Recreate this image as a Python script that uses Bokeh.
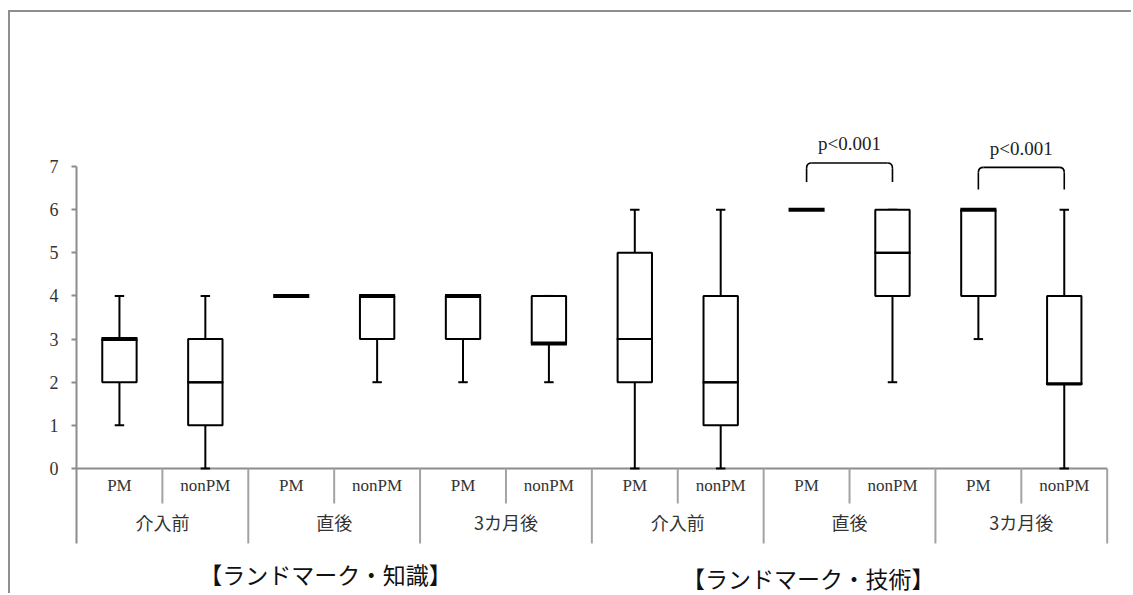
from bokeh.plotting import figure
from bokeh.models import Range1d, FixedTicker
from bokeh.core.properties import value
from bokeh.embed import file_html
from bokeh.resources import INLINE

# ---------------- data ----------------
domains = ["【ランドマーク・知識】", "【ランドマーク・技術】"]
phases = ["介入前", "直後", "3カ月後"]
groups = ["PM", "nonPM"]

whisker_low = [1, 0, 4, 2, 2, 2, 0, 0, 6, 2, 3, 0]
q1 = [2, 1, 4, 3, 3, 2.9, 2, 1, 6, 4, 4, 1.95]
median = [3, 2, 4, 4, 4, 2.9, 3, 2, 6, 5, 6, 1.97]
q3 = [3, 3, 4, 4, 4, 4, 5, 4, 6, 6, 6, 4]
whisker_high = [4, 4, 4, 4, 4, 4, 6, 6, 6, 6, 6, 6]

y_ticks = [0, 1, 2, 3, 4, 5, 6, 7]
sig_pairs = [(8, 9), (10, 11)]
sig_labels = ["p<0.001", "p<0.001"]

# ---------------- layout constants ----------------
W, H = 1123, 583
LEFT, RIGHT = 66, 22
UNIT_Y = 43.14            # px per y unit
ZERO_Y = 456              # canvas y of value 0
X_END = 12.05

GRAY = "#8c8c8c"
SEP = "#a3a3a3"
SERIF = value("Liberation Serif")
CJK = value("Noto Sans CJK JP")

n = len(whisker_low)
cx = [i + 0.5 for i in range(n)]
bw = 0.2      # half box width
cw = 0.055    # half cap width

p = figure(width=W, height=H, output_backend="svg", toolbar_location=None,
           x_range=Range1d(0, X_END),
           y_range=Range1d(-(H - ZERO_Y) / UNIT_Y, ZERO_Y / UNIT_Y),
           x_axis_location=None, min_border_left=LEFT, min_border_right=RIGHT,
           min_border_top=0, min_border_bottom=0)
p.grid.visible = False
p.outline_line_color = None
p.background_fill_color = "white"
p.border_fill_color = "white"
p.styles = {"border-left": "2px solid #8f8f8f", "border-top": "2px solid #8f8f8f",
            "margin-left": "8px", "margin-top": "10px"}

# y axis
ya = p.yaxis[0]
ya.ticker = FixedTicker(ticks=y_ticks)
ya.bounds = (-75 / UNIT_Y, 7)
ya.axis_line_color = GRAY
ya.axis_line_width = 2
ya.major_tick_line_color = GRAY
ya.major_tick_line_width = 2
ya.major_tick_out = 5
ya.major_tick_in = 0
ya.minor_tick_line_color = None
ya.major_label_standoff = 13
ya.major_label_text_font = "Liberation Serif"
ya.major_label_text_font_size = "18px"
ya.major_label_text_color = "#333333"

# baseline and category separators
p.segment(x0=[0], y0=[0], x1=[n], y1=[0], line_color=GRAY, line_width=2)
sub_sep = [i for i in range(1, n, 2)]
grp_sep = [i for i in range(2, n + 1, 2)]
p.segment(x0=sub_sep, y0=[0] * len(sub_sep), x1=sub_sep, y1=[-35 / UNIT_Y] * len(sub_sep),
          line_color=SEP, line_width=2)
p.segment(x0=grp_sep, y0=[0] * len(grp_sep), x1=grp_sep, y1=[-75 / UNIT_Y] * len(grp_sep),
          line_color=SEP, line_width=2)

# whiskers
p.segment(x0=cx, y0=whisker_low, x1=cx, y1=q1, line_color="black", line_width=2)
p.segment(x0=cx, y0=q3, x1=cx, y1=whisker_high, line_color="black", line_width=2)
p.segment(x0=[c - cw for c in cx], y0=whisker_low, x1=[c + cw for c in cx], y1=whisker_low,
          line_color="black", line_width=2)
p.segment(x0=[c - cw for c in cx], y0=whisker_high, x1=[c + cw for c in cx], y1=whisker_high,
          line_color="black", line_width=2)

# boxes
p.quad(left=[c - bw for c in cx], right=[c + bw for c in cx], bottom=q1, top=median,
       fill_color="white", line_color="black", line_width=2)
p.quad(left=[c - bw for c in cx], right=[c + bw for c in cx], bottom=median, top=q3,
       fill_color="white", line_color="black", line_width=2)
med_lw = [4 if (m == a or m == b) else 2 for m, a, b in zip(median, q1, q3)]
p.segment(x0=[c - bw - 0.01 for c in cx], y0=median, x1=[c + bw + 0.01 for c in cx], y1=median,
          line_color="black", line_width=med_lw)

# category labels
p.text(x=cx, y=[-17 / UNIT_Y] * n, text=groups * (n // 2),
       text_font=SERIF, text_font_size="17px", text_align="center",
       text_baseline="middle", text_color="#333333")
phase_x = [2 * i + 1 for i in range(n // 2)]
p.text(x=phase_x, y=[-53 / UNIT_Y] * len(phase_x), text=phases * 2,
       text_font=CJK, text_font_size="18px", text_align="center",
       text_baseline="middle", text_color="#333333")
p.text(x=[2.9, 8.52], y=[-105 / UNIT_Y, -109 / UNIT_Y], text=domains,
       text_font=CJK, text_font_size=["23px", "23px"], text_align="center",
       text_baseline="middle", text_color="#111111")

# significance brackets
tops = [7.08, 6.98]
ends = [6.64, 6.47]
lab_y = [7.53, 7.42]
rx, ry = 0.06, 0.12
for (a, b), t, e, ly, lab in zip(sig_pairs, tops, ends, lab_y, sig_labels):
    xa, xb = cx[a], cx[b]
    p.segment(x0=[xa, xb, xa + rx], y0=[e, e, t], x1=[xa, xb, xb - rx], y1=[t - ry, t - ry, t],
              line_color="black", line_width=1.6)
    p.quadratic(x0=[xa, xb], y0=[t - ry, t - ry], x1=[xa + rx, xb - rx], y1=[t, t],
                cx=[xa, xb], cy=[t, t], line_color="black", line_width=1.6)
    p.text(x=[(xa + xb) / 2], y=[ly], text=[lab], text_font=SERIF, text_font_size="19px",
           text_align="center", text_baseline="middle", text_color="#222222")

open("out.html", "w").write(file_html(p, INLINE))
